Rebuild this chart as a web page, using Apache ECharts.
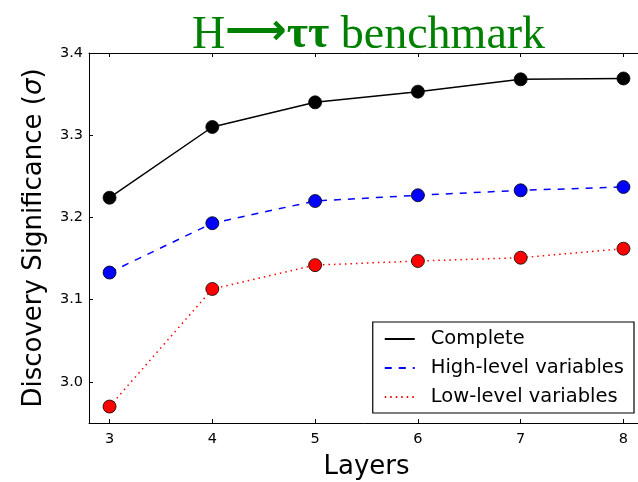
<!DOCTYPE html>
<html><head><meta charset="utf-8">
<script src="https://cdn.jsdelivr.net/npm/echarts@6/dist/echarts.min.js"></script>
<style>html,body{margin:0;padding:0;background:#fff}#c{width:638px;height:482px}</style>
</head><body><div id="c"></div>
<script>
const layers = [3, 4, 5, 6, 7, 8];
const complete = [3.224, 3.310, 3.340, 3.353, 3.368, 3.369];
const highLevel = [3.133, 3.193, 3.220, 3.227, 3.233, 3.237];
const lowLevel = [2.970, 3.113, 3.142, 3.147, 3.151, 3.162];
const yTicks = [3.0, 3.1, 3.2, 3.3, 3.4];
const xTicks = [3, 4, 5, 6, 7, 8];
const seriesNames = ['Complete', 'High-level variables', 'Low-level variables'];

const pairs = a => layers.map((x, i) => [x, a[i]]);
const chart = echarts.init(document.getElementById('c'), null, {renderer: 'canvas'});
const font = 'DejaVu Sans';
const xBase = {
  type: 'value', min: 2.8, max: 8.2,
  axisLine: {show: true, lineStyle: {color: '#000', width: 1}},
  axisTick: {show: true, inside: true, length: 4, customValues: xTicks, lineStyle: {color: '#000'}},
  splitLine: {show: false}
};
const yBase = {
  type: 'value', min: 2.95, max: 3.4,
  axisLine: {show: true, lineStyle: {color: '#000', width: 1}},
  axisTick: {show: true, inside: true, length: 4, customValues: yTicks, lineStyle: {color: '#000'}},
  splitLine: {show: false}
};
const mk = (name, data, color, dash) => ({
  name, type: 'line', data: pairs(data), xAxisIndex: 0, yAxisIndex: 0,
  symbol: 'circle', symbolSize: 13,
  lineStyle: {color, width: 1.5, type: dash},
  itemStyle: {color, borderColor: '#000', borderWidth: 0.8},
  emphasis: {disabled: true}, z: 3
});
chart.setOption({
  animation: false,
  title: {
    text: '{h|H}{a|\u27f6}{t|\u03c4\u03c4}{h| benchmark}', left: 187, top: 6,
    textStyle: {
      fontWeight: 'normal',
      rich: {
        h: {fontFamily: 'Liberation Serif', fontSize: 46, fontWeight: 'normal', color: '#008000'},
        a: {fontFamily: 'DejaVu Sans', fontSize: 43, fontWeight: 'bold', color: '#008000', padding: [0, 0, 6, 0]},
        t: {fontFamily: 'Liberation Serif', fontSize: 46, fontWeight: 'bold', color: '#008000'}
      }
    }
  },
  grid: {left: 89, top: 53, bottom: 59, right: -6, outerBoundsMode: 'none', containLabel: false},
  legend: {
    data: seriesNames, orient: 'vertical', right: 4, bottom: 69,
    borderColor: '#000', borderWidth: 1.2, borderRadius: 0, padding: [7, 10, 6, 11],
    itemWidth: 30, itemHeight: 14, itemGap: 9,
    itemStyle: {opacity: 0},
    textStyle: {fontFamily: font, fontSize: 19.5, color: '#000', padding: [0, 0, 0, 11]},
    backgroundColor: '#fff'
  },
  xAxis: [
    Object.assign({}, xBase, {
      position: 'bottom', name: 'Layers', nameLocation: 'middle', nameGap: 31,
      nameTextStyle: {fontFamily: font, fontSize: 26, color: '#000'},
      axisLabel: {show: true, customValues: xTicks, fontFamily: font, fontSize: 14.5, color: '#000', margin: 9}
    }),
    Object.assign({}, xBase, {position: 'top', axisLabel: {show: false}})
  ],
  yAxis: [
    Object.assign({}, yBase, {
      position: 'left', name: '{n|Discovery Significance (}{s|\u03c3}{n|)}', nameLocation: 'middle', nameGap: 42,
      nameTextStyle: {rich: {
        n: {fontFamily: font, fontSize: 26, color: '#000'},
        s: {fontFamily: font, fontSize: 26, fontStyle: 'italic', color: '#000'}
      }},
      axisLabel: {show: true, customValues: yTicks, fontFamily: font, fontSize: 14.5, color: '#000', margin: 6,
        formatter: v => v.toFixed(1)}
    }),
    Object.assign({}, yBase, {position: 'right', axisLabel: {show: false}})
  ],
  series: [
    mk(seriesNames[0], complete, '#000000', 'solid'),
    mk(seriesNames[1], highLevel, '#0000ff', [7, 7]),
    mk(seriesNames[2], lowLevel, '#ff0000', [1.5, 4])
  ]
});
</script></body></html>
